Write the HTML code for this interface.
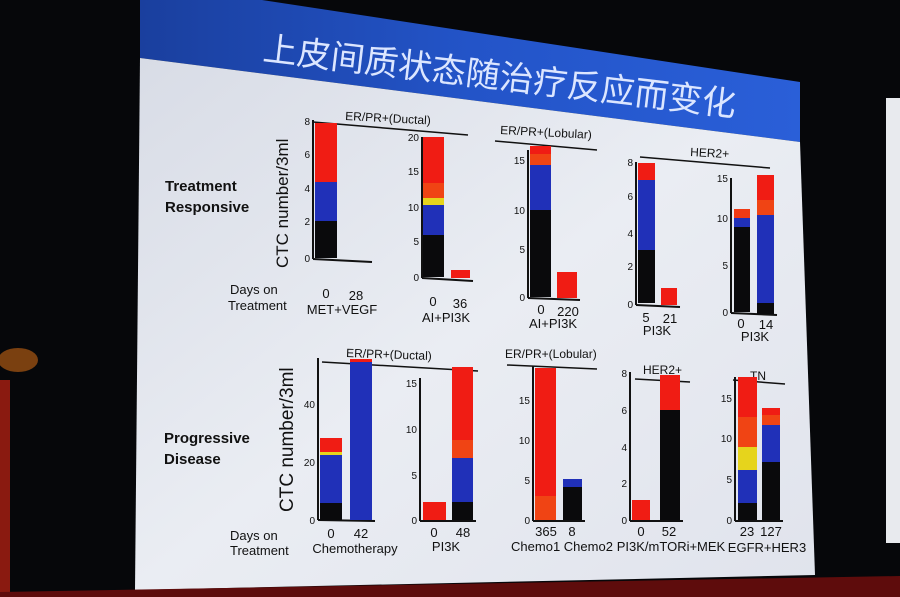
<!DOCTYPE html>
<html><head><meta charset="utf-8"><style>
html,body{margin:0;padding:0;background:#050608;}
svg{display:block}
text{font-family:"Liberation Sans",Arial,sans-serif;}
</style></head><body>
<svg width="900" height="597" viewBox="0 0 900 597" xmlns="http://www.w3.org/2000/svg">
<defs>
<linearGradient id="bl" x1="0" y1="0" x2="1" y2="0"><stop offset="0" stop-color="#1a3f9e"/><stop offset="0.5" stop-color="#2354c8"/><stop offset="1" stop-color="#2a5fd8"/></linearGradient>
<linearGradient id="wh" x1="0" y1="0" x2="1" y2="1"><stop offset="0" stop-color="#d8dce6"/><stop offset="0.5" stop-color="#eaedf3"/><stop offset="1" stop-color="#e0e3ec"/></linearGradient>
</defs>
<rect width="900" height="597" fill="#06070a"/>
<rect x="886" y="98" width="14" height="445" fill="#e8eaee"/>
<rect x="0" y="380" width="10" height="217" fill="#8a1a10"/>
<ellipse cx="18" cy="360" rx="20" ry="12" fill="#7a4010"/>
<polygon points="140,0 262,0 800,82 800,142 140,58" fill="url(#bl)"/>
<polygon points="140,58 800,142 815,575 135,590" fill="url(#wh)"/>
<polygon points="0,592 900,576 900,597 0,597" fill="#5e0c0c"/>
<text transform="translate(262,60) rotate(6.8)" font-family="'Noto Sans CJK SC',sans-serif" font-size="34" fill="#dce6ff">上皮间质状态随治疗反应而变化</text>

<g font-weight="bold" font-size="15" fill="#111">
<text x="165" y="191">Treatment</text><text x="165" y="212">Responsive</text>
<text x="164" y="443">Progressive</text><text x="164" y="464">Disease</text>
</g>
<g font-size="13" fill="#111">
<text transform="translate(288,268) rotate(-90)" font-size="17">CTC number/3ml</text>
<text transform="translate(293,512) rotate(-90)" font-size="19">CTC number/3ml</text>
<text x="230" y="294">Days on</text><text x="228" y="310">Treatment</text>
<text x="230" y="540">Days on</text><text x="230" y="555">Treatment</text>
</g>

<g fill="#111" font-size="12">
<text x="345" y="120" transform="rotate(3 345 120)">ER/PR+(Ductal)</text>
<line x1="313" y1="122" x2="468" y2="135" stroke="#111" stroke-width="1.5"/>
<text x="500" y="134" transform="rotate(3 500 134)">ER/PR+(Lobular)</text>
<line x1="495" y1="141" x2="597" y2="150" stroke="#111" stroke-width="1.5"/>
<text x="690" y="156" transform="rotate(3 690 156)">HER2+</text>
<line x1="640" y1="157" x2="770" y2="168" stroke="#111" stroke-width="1.5"/>
</g>

<g stroke="#111" stroke-width="2">
<line x1="313" y1="120" x2="313" y2="259"/><line x1="313" y1="259" x2="372" y2="262"/>
<line x1="422" y1="137" x2="422" y2="278"/><line x1="422" y1="278" x2="473" y2="281"/>
<line x1="528" y1="150" x2="528" y2="298"/><line x1="528" y1="298" x2="580" y2="300"/>
<line x1="636" y1="162" x2="636" y2="305"/><line x1="636" y1="305" x2="680" y2="307"/>
<line x1="731" y1="178" x2="731" y2="313"/><line x1="731" y1="313" x2="777" y2="315"/>
<line x1="318" y1="358" x2="318" y2="520"/><line x1="318" y1="520" x2="375" y2="521"/>
<line x1="420" y1="378" x2="420" y2="521"/><line x1="420" y1="521" x2="476" y2="521"/>
<line x1="533" y1="366" x2="533" y2="521"/><line x1="533" y1="521" x2="585" y2="521"/>
<line x1="630" y1="372" x2="630" y2="521"/><line x1="630" y1="521" x2="683" y2="521"/>
<line x1="735" y1="377" x2="735" y2="521"/><line x1="735" y1="521" x2="783" y2="521"/>
</g>

<g>
<rect x="315" y="123" width="22" height="59" fill="#f01c14"/><rect x="315" y="182" width="22" height="39" fill="#2030b8"/><rect x="315" y="221" width="22" height="37" fill="#0a0a0c"/>
<rect x="423" y="137" width="21" height="46" fill="#f01c14"/><rect x="423" y="183" width="21" height="15" fill="#f04414"/><rect x="423" y="198" width="21" height="7" fill="#e6d41c"/><rect x="423" y="205" width="21" height="30" fill="#2030b8"/><rect x="423" y="235" width="21" height="42" fill="#0a0a0c"/>
<rect x="451" y="270" width="19" height="8" fill="#f01c14"/>
<rect x="530" y="146" width="21" height="8" fill="#f01c14"/><rect x="530" y="154" width="21" height="11" fill="#f04414"/><rect x="530" y="165" width="21" height="45" fill="#2030b8"/><rect x="530" y="210" width="21" height="87" fill="#0a0a0c"/>
<rect x="557" y="272" width="20" height="26" fill="#f01c14"/>
<rect x="638" y="163" width="17" height="17" fill="#f01c14"/><rect x="638" y="180" width="17" height="70" fill="#2030b8"/><rect x="638" y="250" width="17" height="53" fill="#0a0a0c"/>
<rect x="661" y="288" width="16" height="17" fill="#f01c14"/>
<rect x="734" y="209" width="16" height="9" fill="#f03a14"/><rect x="734" y="218" width="16" height="9" fill="#2030b8"/><rect x="734" y="227" width="16" height="85" fill="#0a0a0c"/>
<rect x="757" y="175" width="17" height="25" fill="#f01c14"/><rect x="757" y="200" width="17" height="15" fill="#f04414"/><rect x="757" y="215" width="17" height="88" fill="#2030b8"/><rect x="757" y="303" width="17" height="11" fill="#0a0a0c"/>
</g>

<g fill="#111" font-size="12">
<text x="346" y="357" transform="rotate(2 346 357)">ER/PR+(Ductal)</text>
<line x1="322" y1="362" x2="478" y2="371" stroke="#111" stroke-width="1.5"/>
<text x="505" y="358">ER/PR+(Lobular)</text>
<line x1="507" y1="365" x2="597" y2="369" stroke="#111" stroke-width="1.5"/>
<text x="643" y="374">HER2+</text>
<line x1="635" y1="379" x2="690" y2="382" stroke="#111" stroke-width="1.5"/>
<text x="750" y="380">TN</text>
<line x1="733" y1="380" x2="785" y2="384" stroke="#111" stroke-width="1.5"/>
</g>
<g>
<rect x="320" y="438" width="22" height="14" fill="#f01c14"/><rect x="320" y="452" width="22" height="3" fill="#e6d41c"/><rect x="320" y="455" width="22" height="48" fill="#2030b8"/><rect x="320" y="503" width="22" height="17" fill="#0a0a0c"/>
<rect x="350" y="359" width="22" height="3" fill="#f01c14"/><rect x="350" y="362" width="22" height="158" fill="#2030b8"/>
<rect x="423" y="502" width="23" height="18" fill="#f01c14"/>
<rect x="452" y="367" width="21" height="73" fill="#f01c14"/><rect x="452" y="440" width="21" height="18" fill="#f04414"/><rect x="452" y="458" width="21" height="44" fill="#2030b8"/><rect x="452" y="502" width="21" height="18" fill="#0a0a0c"/>
<rect x="535" y="368" width="21" height="128" fill="#f01c14"/><rect x="535" y="496" width="21" height="24" fill="#f04414"/>
<rect x="563" y="479" width="19" height="8" fill="#2030b8"/><rect x="563" y="487" width="19" height="33" fill="#0a0a0c"/>
<rect x="632" y="500" width="18" height="20" fill="#f01c14"/>
<rect x="660" y="375" width="20" height="35" fill="#f01c14"/><rect x="660" y="410" width="20" height="110" fill="#0a0a0c"/>
<rect x="738" y="377" width="19" height="40" fill="#f01c14"/><rect x="738" y="417" width="19" height="30" fill="#f04414"/><rect x="738" y="447" width="19" height="23" fill="#e6d41c"/><rect x="738" y="470" width="19" height="33" fill="#2030b8"/><rect x="738" y="503" width="19" height="17" fill="#0a0a0c"/>
<rect x="762" y="408" width="18" height="7" fill="#f01c14"/><rect x="762" y="415" width="18" height="10" fill="#f04414"/><rect x="762" y="425" width="18" height="37" fill="#2030b8"/><rect x="762" y="462" width="18" height="58" fill="#0a0a0c"/>
</g>

<g fill="#111" font-size="10" text-anchor="end">
<text x="310" y="125">8</text><text x="310" y="158">6</text><text x="310" y="192">4</text><text x="310" y="225">2</text><text x="310" y="262">0</text>
<text x="419" y="141">20</text><text x="419" y="175">15</text><text x="419" y="211">10</text><text x="419" y="245">5</text><text x="419" y="281">0</text>
<text x="525" y="164">15</text><text x="525" y="214">10</text><text x="525" y="253">5</text><text x="525" y="301">0</text>
<text x="633" y="166">8</text><text x="633" y="200">6</text><text x="633" y="237">4</text><text x="633" y="270">2</text><text x="633" y="308">0</text>
<text x="728" y="182">15</text><text x="728" y="222">10</text><text x="728" y="269">5</text><text x="728" y="316">0</text>
<text x="315" y="408">40</text><text x="315" y="466">20</text><text x="315" y="524">0</text>
<text x="417" y="387">15</text><text x="417" y="433">10</text><text x="417" y="479">5</text><text x="417" y="524">0</text>
<text x="530" y="404">15</text><text x="530" y="444">10</text><text x="530" y="484">5</text><text x="530" y="524">0</text>
<text x="627" y="377">8</text><text x="627" y="414">6</text><text x="627" y="451">4</text><text x="627" y="487">2</text><text x="627" y="524">0</text>
<text x="732" y="402">15</text><text x="732" y="442">10</text><text x="732" y="483">5</text><text x="732" y="524">0</text>
</g>

<g fill="#111" font-size="13" text-anchor="middle">
<text x="326" y="298">0</text><text x="356" y="300">28</text><text x="342" y="314">MET+VEGF</text>
<text x="433" y="306">0</text><text x="460" y="308">36</text><text x="446" y="322">AI+PI3K</text>
<text x="541" y="314">0</text><text x="568" y="316">220</text><text x="553" y="328">AI+PI3K</text>
<text x="646" y="322">5</text><text x="670" y="323">21</text><text x="657" y="335">PI3K</text>
<text x="741" y="328">0</text><text x="766" y="329">14</text><text x="755" y="341">PI3K</text>
<text x="331" y="538">0</text><text x="361" y="538">42</text><text x="355" y="553">Chemotherapy</text>
<text x="434" y="537">0</text><text x="463" y="537">48</text><text x="446" y="551">PI3K</text>
<text x="546" y="536">365</text><text x="572" y="536">8</text><text x="562" y="551">Chemo1 Chemo2</text>
<text x="641" y="536">0</text><text x="669" y="536">52</text><text x="671" y="551">PI3K/mTORi+MEK</text>
<text x="747" y="536">23</text><text x="771" y="536">127</text><text x="767" y="552">EGFR+HER3</text>
</g>
</svg>
</body></html>
